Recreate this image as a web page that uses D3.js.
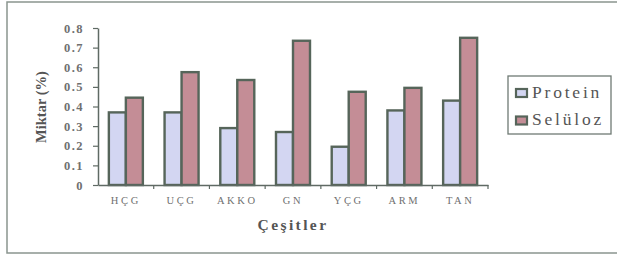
<!DOCTYPE html>
<html><head><meta charset="utf-8">
<script src="https://cdn.jsdelivr.net/npm/d3@7"></script>
<style>body{margin:0;background:#fff}svg{display:block}</style>
</head><body>
<script>
const categories = ["HÇG","UÇG","AKKO","GN","YÇG","ARM","TAN"];
const protein = [0.37,0.37,0.29,0.27,0.195,0.38,0.43];
const seluloz = [0.445,0.575,0.535,0.735,0.475,0.495,0.75];
const seriesNames = ["Protein","Selüloz"];
const yTicks = [0,0.1,0.2,0.3,0.4,0.5,0.6,0.7,0.8];
const colors = ["#d3d6f2","#c48d96"];

const W=617,H=258;
const svg=d3.select("body").append("svg").attr("width",W).attr("height",H)
  .style("font-family","Liberation Serif, Times New Roman, serif");
svg.append("rect").attr("x",7).attr("y",2).attr("width",W).attr("height",251)
  .attr("fill","#fff").attr("stroke","#8a958f").attr("stroke-width",1.5);

const m={l:98,r:488,t:28,b:185};
const x=d3.scaleBand().domain(categories).range([m.l,m.r]).paddingInner(0).paddingOuter(0);
const y=d3.scaleLinear().domain([0,0.8]).range([m.b,m.t]);
const bw=17;

const data=[protein,seluloz];
data.forEach((vals,si)=>{
  svg.append("g").selectAll("rect").data(vals).join("rect")
    .attr("x",(d,i)=>x(categories[i])+x.bandwidth()/2-bw+si*bw)
    .attr("y",d=>y(d)).attr("width",bw).attr("height",d=>y(0)-y(d))
    .attr("fill",colors[si]).attr("stroke","#56655a").attr("stroke-width",2.4);
});

const ya=svg.append("g").attr("transform",`translate(${m.l},0)`)
  .call(d3.axisLeft(y).tickValues(yTicks).tickFormat(d=>d===0?"0":d3.format(".1f")(d)).tickSize(5).tickSizeOuter(0));
ya.attr("font-family",null);
ya.select(".domain").attr("stroke","#5f6a64").attr("stroke-width",1.5);
ya.selectAll(".tick line").attr("stroke","#5f6a64").attr("stroke-width",1.2);
ya.selectAll("text").attr("font-size",12.5).attr("font-weight","bold")
  .attr("fill","#707070").attr("letter-spacing",1.5).attr("x",-14);

const xa=svg.append("g").attr("transform",`translate(0,${m.b})`)
  .call(d3.axisBottom(x).tickSize(0).tickSizeOuter(0));
xa.attr("font-family",null);
xa.select(".domain").attr("stroke","#5f6a64").attr("stroke-width",1.5);
xa.selectAll(".tick text").attr("font-size",10.5)
  .attr("fill","#707070").attr("letter-spacing",2.6).attr("dy","1.5em");
svg.append("g").selectAll("line").data(categories)
  .join("line")
  .attr("x1",d=>x(d)+x.bandwidth()).attr("x2",d=>x(d)+x.bandwidth())
  .attr("y1",m.b).attr("y2",m.b+4).attr("stroke","#5f6a64").attr("stroke-width",1.2);

svg.append("text").attr("transform","translate(46,107) rotate(-90)")
  .attr("text-anchor","middle").attr("font-weight","bold")
  .attr("font-size",14.5).attr("fill","#555").text("Miktar (%)");
svg.append("text").attr("x",293).attr("y",230).attr("text-anchor","middle")
  .attr("font-weight","bold").attr("font-size",15.5)
  .attr("letter-spacing",2.4).attr("fill","#555").text("Çeşitler");

const lg=svg.append("g");
lg.append("rect").attr("x",508).attr("y",76).attr("width",103).attr("height",58)
  .attr("fill","#fff").attr("stroke","#6f7a74").attr("stroke-width",1.3);
seriesNames.forEach((n,i)=>{
  const yy=89+i*27.5;
  lg.append("rect").attr("x",516).attr("y",yy).attr("width",11).attr("height",8)
    .attr("fill",colors[i]).attr("stroke","#56655a").attr("stroke-width",2.2);
  lg.append("text").attr("x",532).attr("y",yy+8.5)
    .attr("font-size",17.5).attr("letter-spacing",2.8).attr("fill","#555").text(n);
});
</script>
</body></html>
